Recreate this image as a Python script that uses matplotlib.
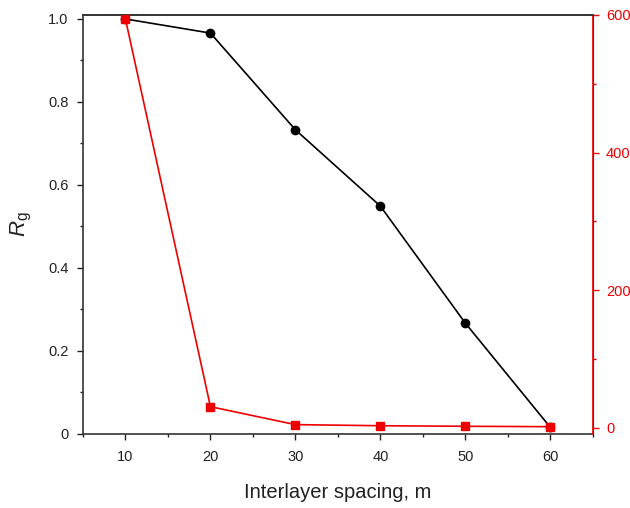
import matplotlib.pyplot as plt
from matplotlib.ticker import MultipleLocator

plt.rcParams['font.family'] = ['Liberation Sans', 'DejaVu Sans']
plt.rcParams['mathtext.fontset'] = 'custom'
plt.rcParams['mathtext.it'] = 'Liberation Sans:italic'
plt.rcParams['mathtext.rm'] = 'Liberation Sans'

# data
spacing = [10, 20, 30, 40, 50, 60]
rg = [1.0, 0.966, 0.733, 0.549, 0.267, 0.016]
right_vals = [594, 30.5, 4.4, 2.8, 2.0, 1.4]

red = '#ee0000'
dark = '#222222'

fig = plt.figure(figsize=(6.3, 5.08), dpi=100)
ax = fig.add_axes([0.1317, 0.1457, 0.8093, 0.8248])
ax2 = ax.twinx()

ax.plot(spacing, rg, color='black', lw=1.2, marker='o', ms=6, zorder=3)
ax2.plot(spacing, right_vals, color=red, lw=1.2, marker='s', ms=5.5, zorder=3)

ax.set_xlim(5, 65)
ax.set_ylim(0, 1.0096)
ax2.set_ylim(-9.2, 600)

ax.xaxis.set_major_locator(MultipleLocator(10))
ax.xaxis.set_minor_locator(MultipleLocator(5))
ax.yaxis.set_minor_locator(MultipleLocator(0.1))
ax2.yaxis.set_major_locator(MultipleLocator(200))
ax2.yaxis.set_minor_locator(MultipleLocator(100))

ax.set_yticks([0, 0.2, 0.4, 0.6, 0.8, 1.0])
ax.set_yticklabels(['0', '0.2', '0.4', '0.6', '0.8', '1.0'])

ax.tick_params(axis='both', which='major', direction='out', length=4.5, width=1,
               labelsize=10.5, colors=dark, pad=6)
ax.tick_params(axis='x', which='major', pad=7)
ax.tick_params(axis='both', which='minor', direction='out', length=2.5, width=1, colors=dark)
ax.tick_params(axis='y', which='both', right=False)
ax.tick_params(axis='x', which='both', top=False)

ax2.tick_params(axis='y', which='major', direction='out', length=4.5, width=1,
                labelsize=10.5, colors=red, pad=5)
ax2.tick_params(axis='y', which='minor', direction='out', length=2.5, width=1, colors=red)
ax2.spines['right'].set_color(red)
ax2.spines['left'].set_visible(False)

for s in ['left', 'bottom', 'top']:
    ax.spines[s].set_color('#333333')
    ax.spines[s].set_linewidth(1.2)
ax2.spines['right'].set_linewidth(1.2)
ax2.spines['top'].set_color('#333333')
ax2.spines['top'].set_linewidth(1.2)
ax2.spines['bottom'].set_visible(False)

ax.set_xlabel('Interlayer spacing, m', fontsize=14.5, labelpad=14, color=dark)
ax.set_ylabel(r'$R_\mathrm{g}$', fontsize=16, labelpad=10, color=dark)

fig.savefig('out.png', dpi=100)
